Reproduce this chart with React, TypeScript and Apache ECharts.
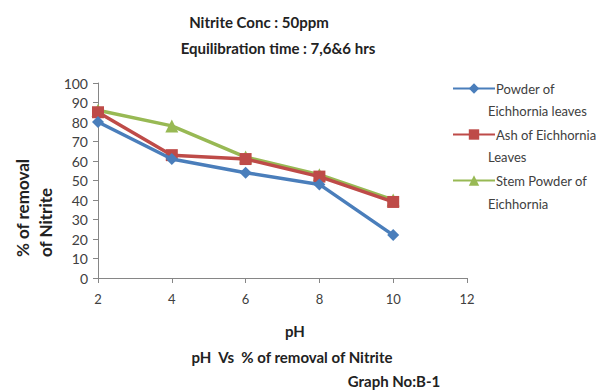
import React, { useEffect, useRef } from "react";
import * as echarts from "echarts";

const phValues = [2, 4, 6, 8, 10];
const powderLeaves = [80, 61, 54, 48, 22];
const ashLeaves = [85, 63, 61, 52, 39];
const stemPowder = [86, 78, 62, 53, 40];
const seriesNames = ["Powder of Eichhornia leaves", "Ash of Eichhornia Leaves", "Stem Powder of Eichhornia"];
const legendFirst = ["Powder of", "Ash of Eichhornia", "Stem Powder of"];
const legendSecond = ["Eichhornia leaves", "Leaves", "Eichhornia"];

const FONT = "Lato, 'Open Sans', sans-serif";

export default function App() {
  const ref = useRef<HTMLDivElement>(null);
  useEffect(() => {
    document.body.style.margin = "0";
    if (!ref.current) return;
    const chart = echarts.init(ref.current, null, { renderer: "svg" });
    const mk = (arr: number[]) => phValues.map((x, i) => [x, arr[i]]);
    const colors = ["#4a7ebb", "#be4b48", "#98b954"];
    const symbols = ["diamond", "rect", "triangle"];
    const sizes = [12, 12, 13];
    const datas = [powderLeaves, ashLeaves, stemPowder];
    chart.setOption({
      animation: false,
      textStyle: { fontFamily: FONT },
      grid: { left: 98, top: 83, width: 369, height: 195 },
      xAxis: {
        type: "value", min: 2, max: 12, interval: 2,
        axisLine: { lineStyle: { color: "#868686" } },
        axisTick: { show: true, length: 5, lineStyle: { color: "#868686" } },
        splitLine: { show: false },
        axisLabel: { color: "#404040", fontSize: 13, margin: 14, fontFamily: FONT },
      },
      yAxis: {
        type: "value", min: 0, max: 100, interval: 10,
        axisLine: { show: true, lineStyle: { color: "#868686" } },
        axisTick: { show: true, length: 5, lineStyle: { color: "#868686" } },
        splitLine: { show: false },
        axisLabel: { color: "#404040", fontSize: 14, margin: 10, fontFamily: FONT },
      },
      legend: {
        orient: "vertical", left: 447, top: 77, itemGap: 33, itemWidth: 42, itemHeight: 13,
        data: seriesNames,
        formatter: (n: string) => legendFirst[seriesNames.indexOf(n)],
        textStyle: { color: "#404040", fontSize: 13, fontFamily: FONT, padding: [0, 0, 0, -4] },
      },
      series: seriesNames.map((name, i) => ({
        name, type: "line", data: mk(datas[i]),
        symbol: symbols[i], symbolSize: sizes[i],
        lineStyle: { color: colors[i], width: 3.5 },
        itemStyle: { color: colors[i] },
        z: 3 - i + 2,
      })),
      graphic: [
        { type: "text", x: 259, y: 22, style: { text: "Nitrite Conc : 50ppm", fill: "#222", font: "bold 15px " + FONT, align: "center", verticalAlign: "middle" } },
        { type: "text", x: 278, y: 48, style: { text: "Equilibration time : 7,6&6 hrs", fill: "#222", font: "bold 15px " + FONT, align: "center", verticalAlign: "middle" } },
        ...legendSecond.map((t, i) => ({
          type: "text", x: 488, y: [111, 157, 204][i],
          style: { text: t, fill: "#404040", font: "13px " + FONT, verticalAlign: "middle" },
        })),
        { type: "text", x: 22, y: 257, rotation: Math.PI / 2, style: { text: "% of removal", fill: "#222", font: "bold 17px " + FONT, align: "left", verticalAlign: "middle" } },
        { type: "text", x: 45, y: 257, rotation: Math.PI / 2, style: { text: "of Nitrite", fill: "#222", font: "bold 17px " + FONT, align: "left", verticalAlign: "middle" } },
        { type: "text", x: 295, y: 331, style: { text: "pH", fill: "#222", font: "bold 15px " + FONT, align: "center", verticalAlign: "middle" } },
        { type: "text", x: 292, y: 357, style: { text: "pH  Vs  % of removal of Nitrite", fill: "#222", font: "bold 15px " + FONT, align: "center", verticalAlign: "middle" } },
        { type: "text", x: 394, y: 381, style: { text: "Graph No:B-1", fill: "#222", font: "bold 15px " + FONT, align: "center", verticalAlign: "middle" } },
      ],
    });
    return () => chart.dispose();
  }, []);
  return <div ref={ref} style={{ width: 615, height: 392 }} />;
}
